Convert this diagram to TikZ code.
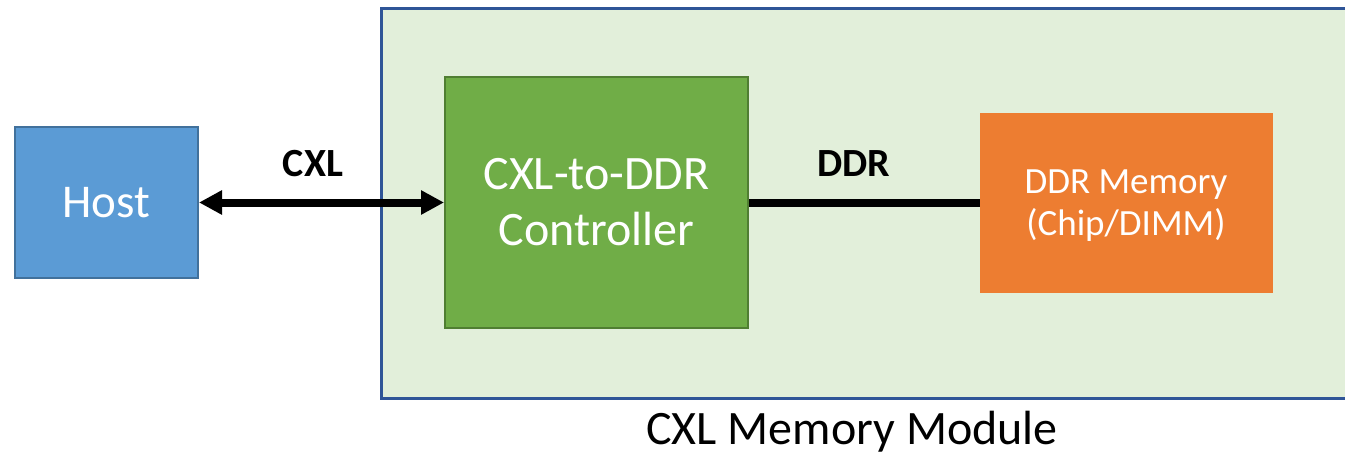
\documentclass[tikz,border=0pt]{standalone}
\usepackage{fontspec}
\setmainfont{Carlito}
\usetikzlibrary{arrows.meta}
\definecolor{hostfill}{HTML}{5B9BD5}
\definecolor{hostline}{HTML}{41719C}
\definecolor{ctrlfill}{HTML}{70AD47}
\definecolor{ctrlline}{HTML}{507E32}
\definecolor{memfill}{HTML}{ED7D31}
\definecolor{modfill}{HTML}{E2EFDA}
\definecolor{modline}{HTML}{2F5597}
\tikzset{
  blk/.style={draw, line width=2pt, inner sep=0pt, align=center, text=white},
  lbl/.style={font=\bfseries\fontsize{40}{46}\selectfont, text=black},
}
\begin{document}
\begin{tikzpicture}[x=1pt,y=-1pt]
\useasboundingbox (0,0) rectangle (1345,455);
\clip (0,0) rectangle (1345,455);
\node[draw=modline, fill=modfill, line width=2.5pt, minimum width=990pt, minimum height=390pt, inner sep=0pt, anchor=north west] (mod) at (380,7) {};
\node[blk, draw=hostline, fill=hostfill, minimum width=183pt, minimum height=151pt, font=\fontsize{47}{54}\selectfont] (host) at (106.5,202.5) {Host};
\node[blk, draw=ctrlline, fill=ctrlfill, minimum width=303pt, minimum height=251pt, font=\fontsize{48}{56}\selectfont] (ctrl) at (596.5,202.5) {CXL-to-DDR\\Controller};
\node[blk, draw=memfill, fill=memfill, line width=0pt, minimum width=292pt, minimum height=179pt] (mem) at (1126,202.5) {};
\node[align=center, text=white, font=\fontsize{37}{42}\selectfont] (memtxt) at (1126,206) {DDR Memory\\(Chip/DIMM)};
\draw[line width=8pt, {Triangle[length=23pt,width=23pt]}-{Triangle[length=23pt,width=23pt]}] (host.east) -- (ctrl.west);
\draw[line width=8pt] (ctrl.east) -- (mem.west);
\node[lbl] (cxl) at (313,164) {CXL};
\node[lbl] (ddr) at (854,164) {DDR};
\node[inner sep=0pt, font=\fontsize{48}{54}\selectfont, text=black] (modlbl) at (852,432) {CXL Memory Module};
\end{tikzpicture}
\end{document}
